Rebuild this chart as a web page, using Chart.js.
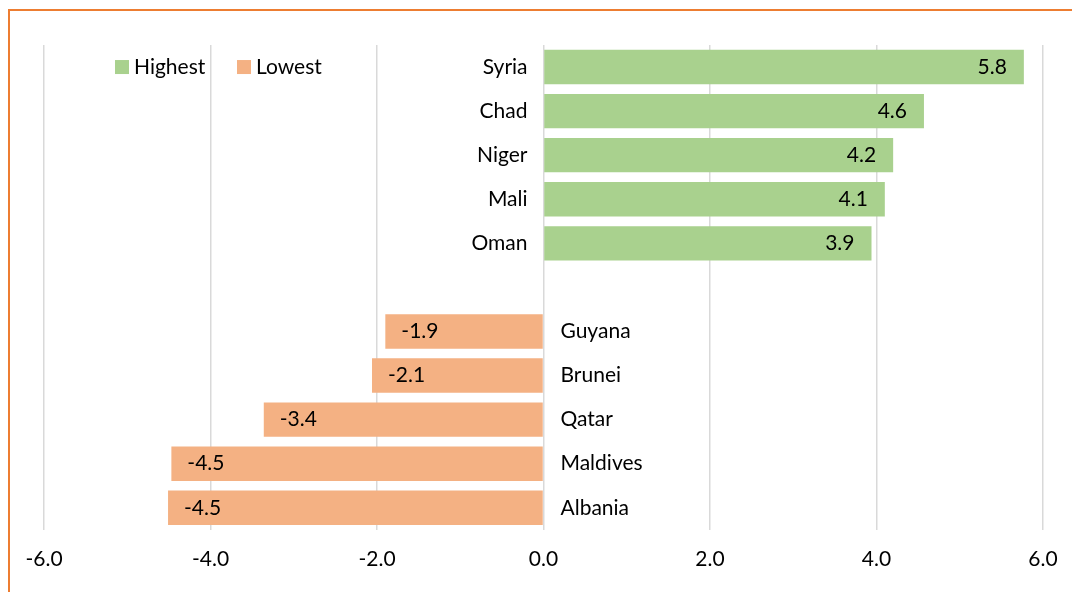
<!DOCTYPE html>
<html>
<head>
<meta charset="utf-8">
<script src="https://cdn.jsdelivr.net/npm/chart.js@4"></script>
<style>
  html, body { margin: 0; padding: 0; background: #fff; overflow: hidden; }
  #frame { position: absolute; left: 8px; top: 9px; width: 1100px; height: 620px; border: 2px solid #ED7D31; }
  #wrap { position: absolute; left: 0; top: 0; width: 1072px; height: 592px; }
</style>
</head>
<body>
<div id="frame"></div>
<div id="wrap"><canvas id="chart"></canvas></div>
<script>
// ═══ DATA ═══
const countries = ['Syria', 'Chad', 'Niger', 'Mali', 'Oman', '', 'Guyana', 'Brunei', 'Qatar', 'Maldives', 'Albania'];
const highest = [5.77, 4.57, 4.2, 4.1, 3.94, null, null, null, null, null, null];
const lowest = [null, null, null, null, null, null, -1.9, -2.06, -3.36, -4.47, -4.51];
const xTicks = [-6, -4, -2, 0, 2, 4, 6];

const GREEN = '#A9D18E';
const ORANGE = '#F4B183';
const FONT = "Lato, 'Open Sans', sans-serif";
const FS = 21;

Chart.defaults.font.family = FONT;
Chart.defaults.font.size = FS;
Chart.defaults.color = '#000';

// ═══ LABELS + LEGEND PLUGIN ═══
const labelPlugin = {
  id: 'labelPlugin',
  afterDatasetsDraw(chart) {
    const ctx = chart.ctx;
    const x0 = chart.scales.x.getPixelForValue(0);
    ctx.save();
    ctx.font = FS + 'px ' + FONT;
    ctx.fillStyle = '#000';
    ctx.textBaseline = 'middle';
    chart.data.datasets.forEach((ds, di) => {
      chart.getDatasetMeta(di).data.forEach((bar, i) => {
        const v = ds.data[i];
        if (v === null) return;
        if (v >= 0) {
          ctx.textAlign = 'right';
          ctx.fillText(v.toFixed(1), bar.x - 17, bar.y);
          ctx.fillText(countries[i], x0 - 16, bar.y);
        } else {
          ctx.textAlign = 'left';
          ctx.fillText(v.toFixed(1), bar.x + 16, bar.y);
          ctx.fillText(countries[i], x0 + 17, bar.y);
        }
      });
    });
    // legend
    const ly = chart.scales.y.getPixelForValue(0);
    let lx = 115;
    ctx.textAlign = 'left';
    chart.data.datasets.forEach(ds => {
      ctx.fillStyle = ds.backgroundColor;
      ctx.fillRect(lx, ly - 7, 14, 14);
      ctx.fillStyle = '#000';
      ctx.fillText(ds.label, lx + 19, ly);
      lx += 122;
    });
    ctx.restore();
  }
};

// ═══ CHART ═══
new Chart(document.getElementById('chart'), {
  type: 'bar',
  data: {
    labels: countries,
    datasets: [
      { label: 'Highest', data: highest, backgroundColor: GREEN, grouped: false, barPercentage: 0.78, categoryPercentage: 1 },
      { label: 'Lowest', data: lowest, backgroundColor: ORANGE, grouped: false, barPercentage: 0.78, categoryPercentage: 1 }
    ]
  },
  options: {
    indexAxis: 'y',
    responsive: true,
    maintainAspectRatio: false,
    animation: false,
    layout: { padding: { left: 44, right: 29, top: 45, bottom: 3 } },
    plugins: {
      legend: { display: false },
      tooltip: { enabled: false }
    },
    scales: {
      x: {
        min: -6, max: 6,
        afterBuildTicks: axis => { axis.ticks = xTicks.map(v => ({ value: v })); },
        afterFit: axis => { axis.paddingLeft = 0; axis.paddingRight = 0; },
        ticks: { padding: 17, callback: v => v.toFixed(1), font: { size: FS } },
        grid: { color: '#D9D9D9', lineWidth: 1.5, drawTicks: false },
        border: { display: false }
      },
      y: { display: false }
    }
  },
  plugins: [labelPlugin]
});
</script>
</body>
</html>
